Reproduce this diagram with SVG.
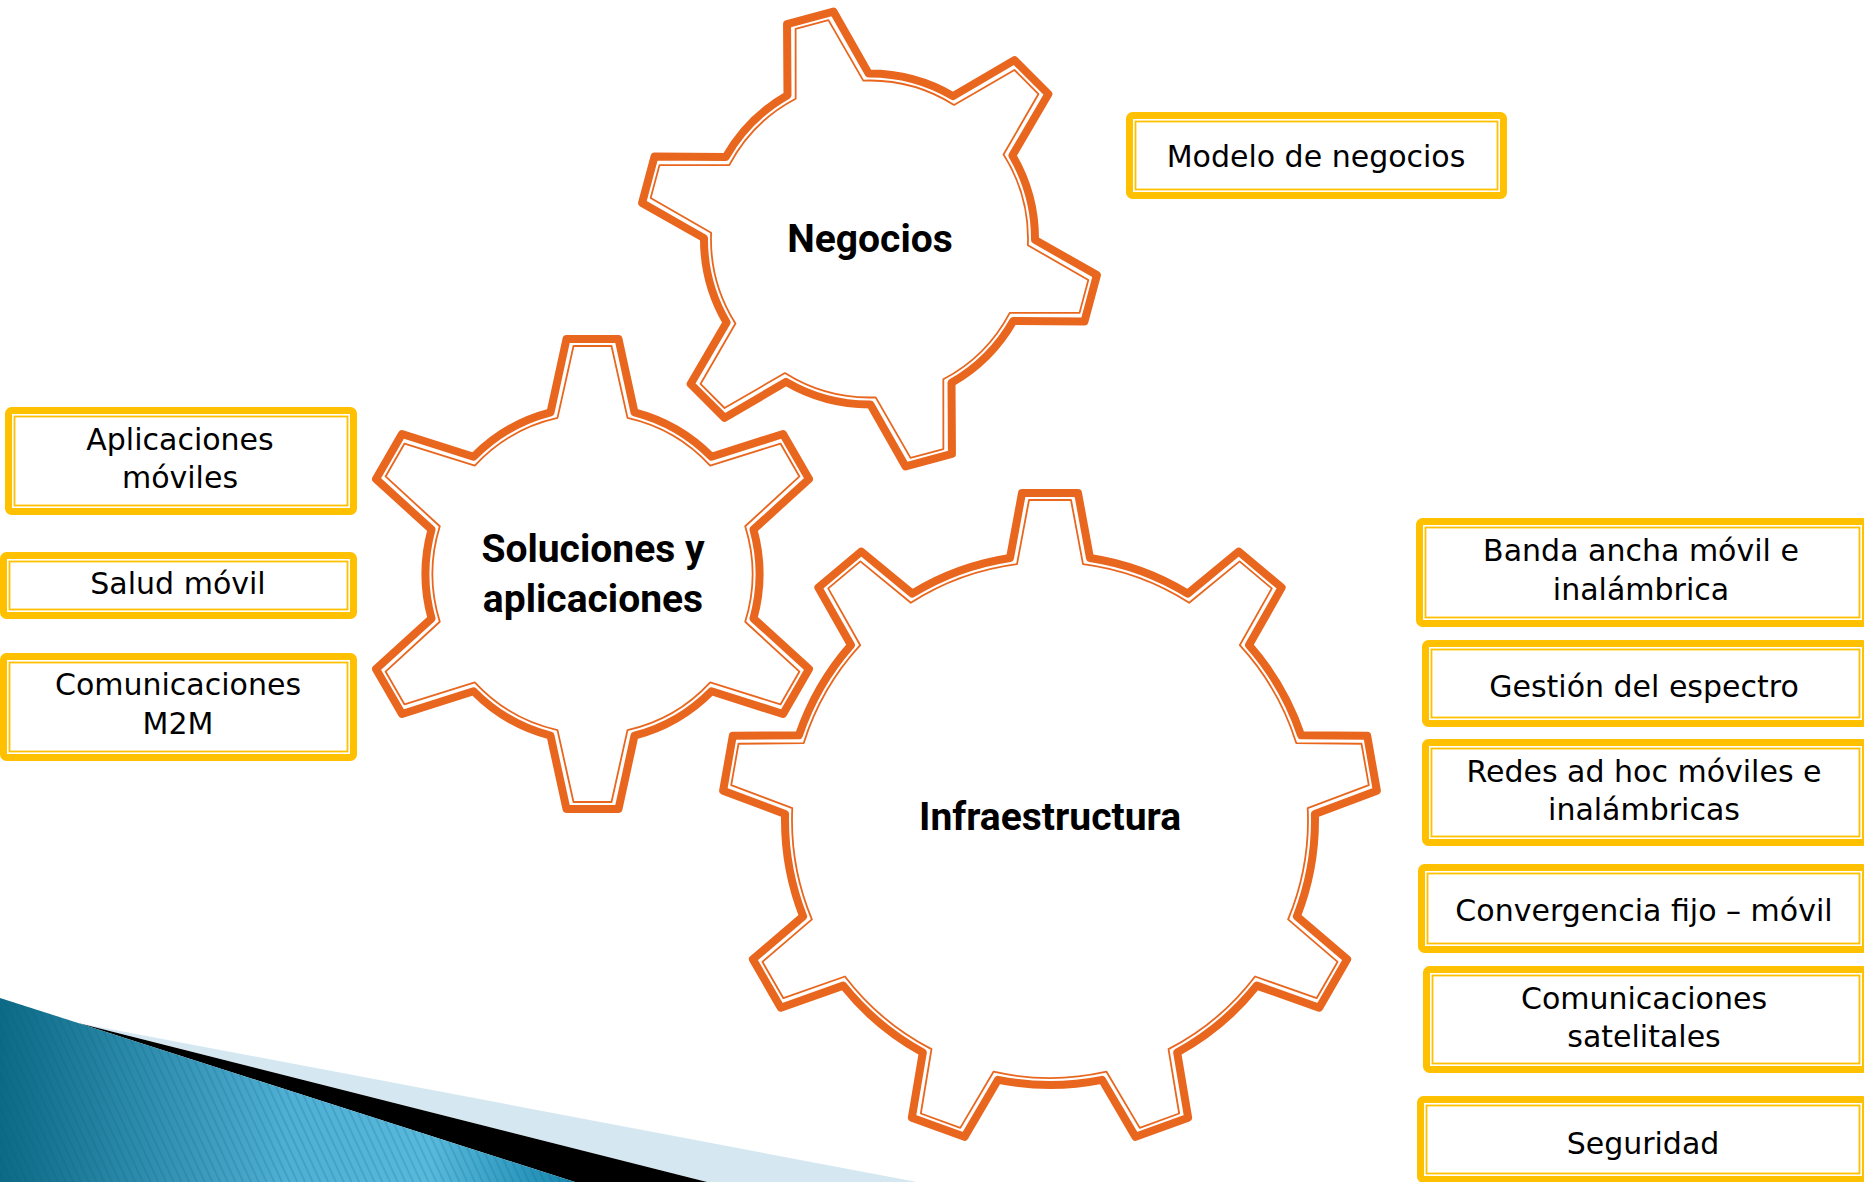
<svg xmlns="http://www.w3.org/2000/svg" width="1864" height="1182" viewBox="0 0 1864 1182">
<style>
.gear-outer{fill:#fff;stroke:#E9661F;stroke-width:8;stroke-linejoin:round}
.gear-inner{fill:none;stroke:#E9661F;stroke-width:1.8;stroke-linejoin:round}
.box-outer{fill:#fff;stroke:#FFC000;stroke-width:7;stroke-linejoin:round}
.box-inner{fill:none;stroke:#FFC000;stroke-width:1.8}
.lbl{font-family:"DejaVu Sans",sans-serif;font-size:30px;fill:#000;text-anchor:middle}
.glbl{font-family:Roboto,"Liberation Sans",sans-serif;font-weight:bold;font-size:39px;fill:#000;text-anchor:middle}
</style>
<defs>
<linearGradient id="blueGrad" x1="0" y1="0" x2="1" y2="0">
<stop offset="0" stop-color="#0C6A86"/>
<stop offset="0.5" stop-color="#4FAFD4"/>
<stop offset="0.75" stop-color="#58B9DC"/>
<stop offset="1" stop-color="#1686AE"/>
</linearGradient>
<pattern id="stripes" patternUnits="userSpaceOnUse" width="7" height="7" patternTransform="rotate(-25)">
<line x1="1" y1="0" x2="1" y2="7" stroke="#0A5A74" stroke-width="1" stroke-opacity="0.35"/>
</pattern>
</defs>
<rect width="1864" height="1182" fill="#fff"/>

<g id="decoration">
<polygon points="78,1023 917,1182 707,1182" fill="#D5E8F1"/>
<polygon points="78,1023 707,1182 575,1182" fill="#000"/>
<polygon points="0,998 575,1182 0,1182" fill="url(#blueGrad)"/>
<polygon points="0,998 575,1182 0,1182" fill="url(#stripes)"/>
</g>

<g id="connectors"></g>

<g id="gear-negocios">
<g transform="translate(869.5,239) rotate(-15)">
<path class="gear-outer" d="M-42,-160.1 L-24,-229 L24,-229 L42,-160.1 A165.5,165.5 0 0 1 117.65,-116.42 L186.31,-135.28 L210.31,-93.72 L159.65,-43.68 A165.5,165.5 0 0 1 159.65,43.68 L210.31,93.72 L186.31,135.28 L117.65,116.42 A165.5,165.5 0 0 1 42,160.1 L24,229 L-24,229 L-42,160.1 A165.5,165.5 0 0 1 -117.65,116.42 L-186.31,135.28 L-210.31,93.72 L-159.65,43.68 A165.5,165.5 0 0 1 -159.65,-43.68 L-210.31,-93.72 L-186.31,-135.28 L-117.65,-116.42 A165.5,165.5 0 0 1 -42,-160.1 Z"/>
<path class="gear-inner" d="M-35,-154.59 L-17,-222 L17,-222 L35,-154.59 A158.5,158.5 0 0 1 116.37,-107.61 L183.75,-125.72 L200.75,-96.28 L151.37,-46.99 A158.5,158.5 0 0 1 151.37,46.99 L200.75,96.28 L183.75,125.72 L116.37,107.61 A158.5,158.5 0 0 1 35,154.59 L17,222 L-17,222 L-35,154.59 A158.5,158.5 0 0 1 -116.37,107.61 L-183.75,125.72 L-200.75,96.28 L-151.37,46.99 A158.5,158.5 0 0 1 -151.37,-46.99 L-200.75,-96.28 L-183.75,-125.72 L-116.37,-107.61 A158.5,158.5 0 0 1 -35,-154.59 Z"/>
</g>
<text class="glbl" x="870" y="252">Negocios</text>
</g>

<g id="gear-soluciones">
<g transform="translate(592.5,574)">
<path class="gear-outer" d="M-42,-161.63 L-26,-235 L26,-235 L42,-161.63 A167,167 0 0 1 118.97,-117.19 L190.51,-140.02 L216.51,-94.98 L160.97,-44.45 A167,167 0 0 1 160.97,44.45 L216.51,94.98 L190.51,140.02 L118.97,117.19 A167,167 0 0 1 42,161.63 L26,235 L-26,235 L-42,161.63 A167,167 0 0 1 -118.97,117.19 L-190.51,140.02 L-216.51,94.98 L-160.97,44.45 A167,167 0 0 1 -160.97,-44.45 L-216.51,-94.98 L-190.51,-140.02 L-118.97,-117.19 A167,167 0 0 1 -42,-161.63 Z"/>
<path class="gear-inner" d="M-35,-156.12 L-19,-228 L19,-228 L35,-156.12 A160,160 0 0 1 117.7,-108.37 L187.95,-130.45 L206.95,-97.55 L152.7,-47.75 A160,160 0 0 1 152.7,47.75 L206.95,97.55 L187.95,130.45 L117.7,108.37 A160,160 0 0 1 35,156.12 L19,228 L-19,228 L-35,156.12 A160,160 0 0 1 -117.7,108.37 L-187.95,130.45 L-206.95,97.55 L-152.7,47.75 A160,160 0 0 1 -152.7,-47.75 L-206.95,-97.55 L-187.95,-130.45 L-117.7,-108.37 A160,160 0 0 1 -35,-156.12 Z"/>
</g>
<text class="glbl" x="593" y="562">Soluciones y</text>
<text class="glbl" x="593" y="612">aplicaciones</text>
</g>

<g id="gear-infraestructura">
<g transform="translate(1050,820)">
<path class="gear-outer" d="M-40,-261.96 L-28,-327 L28,-327 L40,-261.96 A265,265 0 0 1 137.75,-226.37 L188.75,-268.48 L231.65,-232.48 L199.03,-174.95 A265,265 0 0 1 251.04,-84.87 L317.17,-84.34 L326.89,-29.2 L264.92,-6.09 A265,265 0 0 1 246.86,96.34 L297.18,139.25 L269.18,187.75 L206.86,165.62 A265,265 0 0 1 127.18,232.48 L138.14,297.7 L85.52,316.86 L52,259.84 A265,265 0 0 1 -52,259.84 L-85.52,316.86 L-138.14,297.7 L-127.18,232.48 A265,265 0 0 1 -206.86,165.62 L-269.18,187.75 L-297.18,139.25 L-246.86,96.34 A265,265 0 0 1 -264.92,-6.09 L-326.89,-29.2 L-317.17,-84.34 L-251.04,-84.87 A265,265 0 0 1 -199.03,-174.95 L-231.65,-232.48 L-188.75,-268.48 L-137.75,-226.37 A265,265 0 0 1 -40,-261.96 Z"/>
<path class="gear-inner" d="M-33,-255.88 L-21,-320 L21,-320 L33,-255.88 A258,258 0 0 1 139.2,-217.21 L189.61,-258.62 L221.79,-231.62 L189.76,-174.79 A258,258 0 0 1 246.26,-76.92 L311.49,-76.23 L318.79,-34.87 L257.72,-11.92 A258,258 0 0 1 238.09,99.36 L287.62,141.81 L266.62,178.19 L205.09,156.52 A258,258 0 0 1 118.52,229.16 L129.17,293.52 L89.71,307.88 L56.5,251.74 A258,258 0 0 1 -56.5,251.74 L-89.71,307.88 L-129.17,293.52 L-118.52,229.16 A258,258 0 0 1 -205.09,156.52 L-266.62,178.19 L-287.62,141.81 L-238.09,99.36 A258,258 0 0 1 -257.72,-11.92 L-318.79,-34.87 L-311.49,-76.23 L-246.26,-76.92 A258,258 0 0 1 -189.76,-174.79 L-221.79,-231.62 L-189.61,-258.62 L-139.2,-217.21 A258,258 0 0 1 -33,-255.88 Z"/>
</g>
<text class="glbl" x="1050" y="830">Infraestructura</text>
</g>

<g id="box-modelo">
<rect class="box-outer" x="1129.5" y="115.5" width="374" height="80" rx="3"/>
<rect class="box-inner" x="1135.5" y="121.5" width="362" height="68"/>
<text class="lbl" x="1316" y="167">Modelo de negocios</text>
</g>

<g id="box-aplicaciones">
<rect class="box-outer" x="8.5" y="410.5" width="345" height="101" rx="3"/>
<rect class="box-inner" x="14.5" y="416.5" width="333" height="89"/>
<text class="lbl" x="180" y="450">Aplicaciones</text>
<text class="lbl" x="180" y="487.5">móviles</text>
</g>

<g id="box-salud">
<rect class="box-outer" x="3.5" y="555.5" width="350" height="60" rx="3"/>
<rect class="box-inner" x="9.5" y="561.5" width="338" height="48"/>
<text class="lbl" x="178" y="593.5">Salud móvil</text>
</g>

<g id="box-m2m">
<rect class="box-outer" x="3.5" y="656.5" width="350" height="101" rx="3"/>
<rect class="box-inner" x="9.5" y="662.5" width="338" height="89"/>
<text class="lbl" x="178" y="695">Comunicaciones</text>
<text class="lbl" x="178" y="733.5">M2M</text>
</g>

<g id="box-banda">
<rect class="box-outer" x="1419.5" y="521.5" width="446" height="102" rx="3"/>
<rect class="box-inner" x="1425.5" y="527.5" width="434" height="90"/>
<text class="lbl" x="1641" y="561">Banda ancha móvil e</text>
<text class="lbl" x="1641" y="599.5">inalámbrica</text>
</g>

<g id="box-gestion">
<rect class="box-outer" x="1425.5" y="643.5" width="440" height="80" rx="3"/>
<rect class="box-inner" x="1431.5" y="649.5" width="428" height="68"/>
<text class="lbl" x="1644" y="697">Gestión del espectro</text>
</g>

<g id="box-redes">
<rect class="box-outer" x="1425.5" y="742.5" width="440" height="100" rx="3"/>
<rect class="box-inner" x="1431.5" y="748.5" width="428" height="88"/>
<text class="lbl" x="1644" y="782">Redes ad hoc móviles e</text>
<text class="lbl" x="1644" y="819.5">inalámbricas</text>
</g>

<g id="box-convergencia">
<rect class="box-outer" x="1421.5" y="867.5" width="444" height="82" rx="3"/>
<rect class="box-inner" x="1427.5" y="873.5" width="432" height="70"/>
<text class="lbl" x="1644" y="921">Convergencia fijo – móvil</text>
</g>

<g id="box-satelitales">
<rect class="box-outer" x="1426.5" y="969.5" width="439" height="100" rx="3"/>
<rect class="box-inner" x="1432.5" y="975.5" width="427" height="88"/>
<text class="lbl" x="1644" y="1008.5">Comunicaciones</text>
<text class="lbl" x="1644" y="1047">satelitales</text>
</g>

<g id="box-seguridad">
<rect class="box-outer" x="1420.5" y="1099.5" width="445" height="80" rx="3"/>
<rect class="box-inner" x="1426.5" y="1105.5" width="433" height="68"/>
<text class="lbl" x="1643" y="1153.5">Seguridad</text>
</g>
</svg>
